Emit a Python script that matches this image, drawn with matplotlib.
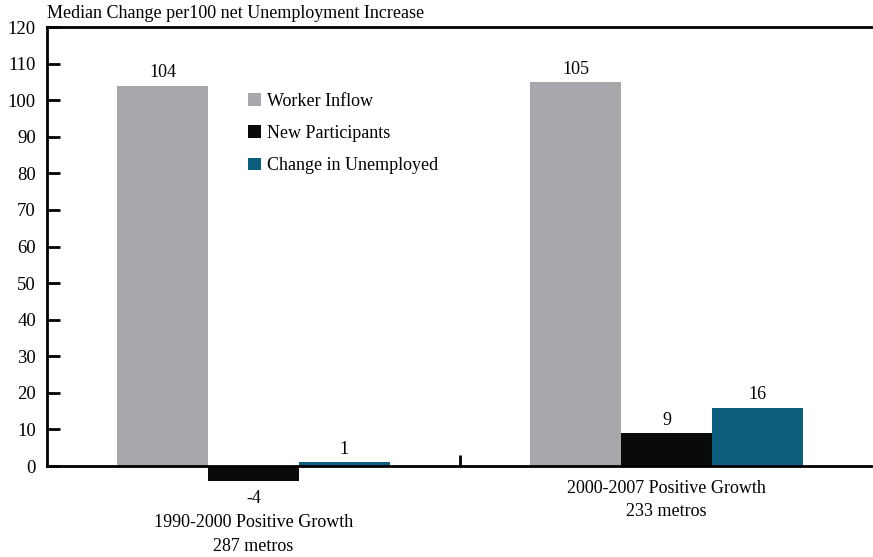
import matplotlib
matplotlib.use("Agg")
import matplotlib.pyplot as plt
import numpy as np

plt.rcParams['font.family'] = ['Liberation Serif', 'DejaVu Serif']

groups = ["1990-2000 Positive Growth\n287 metros", "2000-2007 Positive Growth\n233 metros"]
series_names = ["Worker Inflow", "New Participants", "Change in Unemployed"]
worker_inflow = [104, 105]
new_participants = [-4, 9]
change_unemployed = [1, 16]
colors = ["#A7A8AB", "#0A0A0A", "#0D5E7E"]
yticks = list(range(0, 121, 10))
title = "Median Change per100 net Unemployment Increase"

fig = plt.figure(figsize=(8.73, 5.57), dpi=100)
ax = fig.add_axes([47/873, 1-488/557, (873-47)/873, (488-27)/557])

x = np.arange(len(groups))
w = 0.22
values = [worker_inflow, new_participants, change_unemployed]
fs = 13
for i, (name, vals, c) in enumerate(zip(series_names, values, colors)):
    ax.bar(x + (i-1)*w, vals, w, color=c, label=name)
    for xi, v in zip(x + (i-1)*w, vals):
        if v >= 0:
            ax.annotate(str(v), (xi, v), xytext=(0, 3), textcoords='offset points',
                        ha='center', va='bottom', fontsize=fs)
        else:
            ax.annotate(str(v), (xi, v), xytext=(0, -7), textcoords='offset points',
                        ha='center', va='top', fontsize=fs)

ax.set_xlim(-0.5, 1.5)
ax.set_ylim(-6, 120)
ax.set_yticks(yticks)
ax.tick_params(axis='y', direction='in', length=9, width=2, labelsize=13.5, pad=8)
ax.set_xticks([0.5])
ax.set_xticklabels([])
ax.tick_params(axis='x', direction='in', length=8, width=2)

ax.spines['right'].set_visible(False)
ax.spines['left'].set_bounds(0, 120)
ax.spines['left'].set_linewidth(2)
ax.spines['top'].set_linewidth(2)
ax.spines['bottom'].set_position(('data', 0))
ax.spines['bottom'].set_linewidth(2)

min_vals = [min(v[k] for v in values) for k in range(len(groups))]
for xi, g, mv in zip(x, groups, min_vals):
    if mv < 0:
        ax.annotate(g, (xi, mv), xytext=(0, -24), textcoords='offset points',
                    ha='center', va='top', fontsize=fs, linespacing=1.5, annotation_clip=False)
    else:
        ax.annotate(g, (xi, 0), xytext=(0, -10), textcoords='offset points',
                    ha='center', va='top', fontsize=fs, linespacing=1.5, annotation_clip=False)

ax.legend(loc='upper left', bbox_to_anchor=(0.224, 0.893), frameon=False,
          fontsize=fs, handlelength=0.7, handleheight=0.7, handletextpad=0.35,
          labelspacing=0.85)

fig.text(47/873, 1-14/557, title, ha='left', va='center', fontsize=fs)

fig.savefig("out.png", dpi=100)
